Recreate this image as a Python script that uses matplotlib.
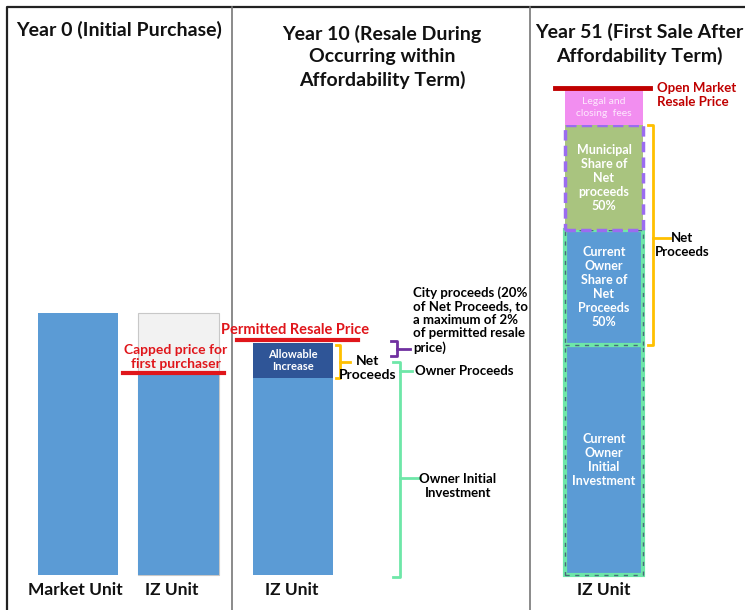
import matplotlib.pyplot as plt

# values (arbitrary price units, 0 = bottom of bars)
year0_labels = ["Market Unit", "IZ Unit"]
year0_prices = [262, 262]          # full market price of both units
year0_capped = 202                 # capped price for first purchaser

year10_label = "IZ Unit"
year10_base = 197                  # owner initial investment
year10_increase = 35               # allowable increase
year10_permitted = 235             # permitted resale price

year51_label = "IZ Unit"
year51_segments = [230, 115, 105, 35]
year51_texts = ["Current\nOwner\nInitial\nInvestment",
                "Current\nOwner\nShare of\nNet\nProceeds\n50%",
                "Municipal\nShare of\nNet\nproceeds\n50%",
                "Legal and\nclosing  fees"]
year51_open_market = 487

plt.rcParams["font.family"] = ["Lato", "DejaVu Sans"]

blue = "#5b9bd5"
dark_blue = "#2f5597"
red = "#e0161b"
dark_red = "#c00000"
gold = "#ffc000"
purple = "#7030a0"
mint = "#6ee7a8"

fig = plt.figure(figsize=(7.45, 6.1), dpi=100)
ax = fig.add_axes([0, 0, 1, 1])
ax.set_xlim(0, 745)
ax.set_ylim(-35, 575)
ax.axis("off")

# frame and dividers
ax.plot([7, 7, 745], [-35, 568, 568], color="#222222", lw=1.6)
for xd in [232, 530]:
    ax.plot([xd, xd], [-35, 568], color="#777777", lw=1.2)

# headers
hdr = dict(fontsize=14, fontweight="bold", color="#111111", ha="center", va="center")
ax.text(119, 545, "Year 0 (Initial Purchase)", **hdr)
ax.text(382, 518, "Year 10 (Resale During\nOccurring within\nAffordability Term)",
        linespacing=1.4, **hdr)
ax.text(639, 531, "Year 51 (First Sale After\nAffordability Term)", linespacing=1.4, **hdr)

# ---- Year 0 ----
x0 = [78, 178]
ax.bar(x0[0], year0_prices[0], width=80, color=blue)
ax.bar(x0[1], year0_prices[1], width=81, color="#f2f2f2", edgecolor="#c8c8c8", lw=0.8)
ax.bar(x0[1], year0_capped, width=81, color=blue)
ax.plot([123, 224], [year0_capped, year0_capped], color=red, lw=3)
ax.text(176, 218, "Capped price for\nfirst purchaser", color=red, fontsize=10,
        fontweight="bold", ha="center", va="center", linespacing=1.1)

# ---- Year 10 ----
x10 = 293
ax.bar(x10, year10_base, width=80, color=blue)
ax.bar(x10, year10_increase, bottom=year10_base, width=80, color=dark_blue)
ax.plot([237, 358], [year10_permitted, year10_permitted], color=red, lw=3)
ax.text(295, 245, "Permitted Resale Price", color=red, fontsize=10.5,
        fontweight="bold", ha="center", va="center")
ax.text(x10, year10_base + year10_increase / 2, "Allowable\nIncrease", color="white",
        fontsize=8, fontweight="bold", ha="center", va="center")


def bracket(x, top, bottom, hook, ticks, color):
    ax.plot([x - hook, x, x, x - hook], [top, top, bottom, bottom], color=color, lw=2)
    for y, x2 in ticks:
        ax.plot([x, x2], [y, y], color=color, lw=2)


bracket(340, 230, 197, 4, [(213, 350)], gold)
ax.text(368, 207, "Net\nProceeds", fontsize=10, fontweight="bold", ha="center",
        va="center", linespacing=1.2)
bracket(397, 234, 219, 6, [(226, 410)], purple)
ax.text(413, 255, "City proceeds (20%\nof Net Proceeds, to\na maximum of 2%\nof permitted resale\nprice)",
        fontsize=9.5, fontweight="bold", ha="left", va="center", linespacing=1.15)
bracket(400, 213, -2, 7, [(204, 412), (97, 420)], mint)
ax.text(415, 204, "Owner Proceeds", fontsize=9.5, fontweight="bold", ha="left", va="center")
ax.text(458, 89, "Owner Initial\nInvestment", fontsize=9.5, fontweight="bold",
        ha="center", va="center", linespacing=1.2)

# ---- Year 51 ----
x51 = 604
seg_colors = [blue, blue, "#a9c47f", "#f28ef0"]
bottom = 0
for seg, col, txt, i in zip(year51_segments, seg_colors, year51_texts, range(4)):
    ax.bar(x51, seg, bottom=bottom, width=78, color=col)
    if i < 2:
        ax.bar(x51, seg, bottom=bottom, width=78, fill=False, edgecolor=mint, lw=3)
        ax.bar(x51, seg, bottom=bottom, width=78, fill=False, edgecolor="#4a6a7a",
               lw=1, linestyle=(0, (3, 4)))
    elif i == 2:
        ax.bar(x51, seg, bottom=bottom, width=78, fill=False, edgecolor="#9b6cf0",
               lw=2.5, linestyle=(0, (3, 1.5)))
    if i == 3:
        ax.text(x51, bottom + seg / 2, txt, color="#fde8fd", fontsize=7.5,
                ha="center", va="center", linespacing=1.3)
    else:
        ax.text(x51, bottom + seg / 2, txt, color="white", fontsize=9,
                fontweight="bold", ha="center", va="center", linespacing=1.2)
    bottom += seg

ax.plot([555, 650], [year51_open_market, year51_open_market], color=dark_red, lw=3.5)
ax.text(657, 480, "Open Market\nResale Price", color=dark_red, fontsize=9.5,
        fontweight="bold", ha="left", va="center", linespacing=1.1)
bracket(653, 450, 230, 5, [(337, 670)], gold)
ax.text(682, 330, "Net\nProceeds", fontsize=9.5, fontweight="bold", ha="center",
        va="center", linespacing=1.2)

# unit labels
lab = dict(fontsize=12.5, fontweight="bold", color="#111111", ha="center", va="center")
ax.text(75, -15, year0_labels[0], **lab)
ax.text(172, -15, year0_labels[1], **lab)
ax.text(292, -15, year10_label, **lab)
ax.text(604, -15, year51_label, **lab)

fig.savefig("out.png", dpi=100)
